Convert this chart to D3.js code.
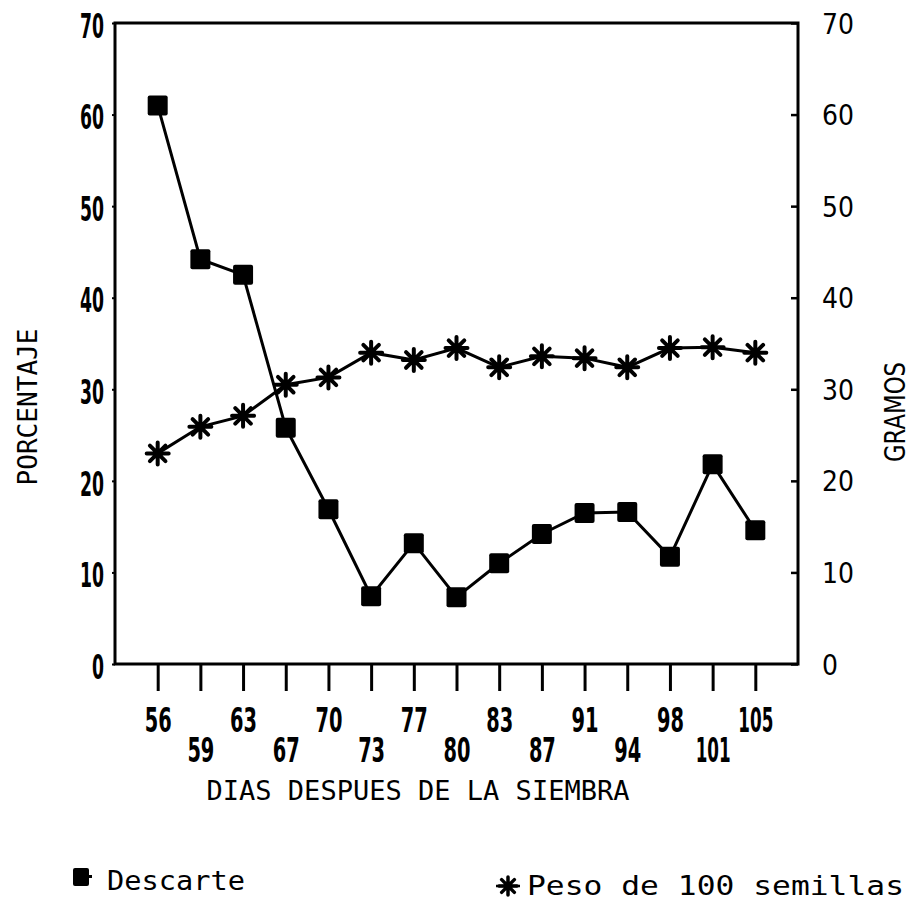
<!DOCTYPE html>
<meta charset="utf-8" />
<script src="https://d3js.org/d3.v7.min.js"></script>
<style>
  body { margin: 0; background: #fff; }
</style>
<div id="my_dataviz"></div>

<script>
  // values
  const days = ['56', '59', '63', '67', '70', '73', '77', '80', '83', '87', '91', '94', '98', '101', '105'];
  const descarte = [61.0, 44.2, 42.5, 25.8, 16.9, 7.4, 13.2, 7.3, 11.0, 14.2, 16.5, 16.6, 11.7, 21.8, 14.6];
  const peso = [23.0, 25.9, 27.1, 30.5, 31.3, 34.0, 33.2, 34.5, 32.4, 33.6, 33.4, 32.4, 34.5, 34.6, 34.0];
  const yTicks = [0, 10, 20, 30, 40, 50, 60, 70];

  const W = 913, H = 905;
  const plot = { left: 115, right: 798, top: 23, bottom: 664 };

  const svg = d3
    .select('#my_dataviz')
    .append('svg')
    .attr('width', W)
    .attr('height', H);

  const x = d3.scalePoint().domain(days).range([plot.left, plot.right]).padding(1);
  const y = d3.scaleLinear().domain([0, 70]).range([plot.bottom, plot.top]);

  const digitFont = "'DejaVu Sans', sans-serif";
  const monoFont = "'DejaVu Sans Mono', monospace";

  // frame
  svg
    .append('rect')
    .attr('x', plot.left)
    .attr('y', plot.top)
    .attr('width', plot.right - plot.left)
    .attr('height', plot.bottom - plot.top)
    .attr('fill', 'none')
    .attr('stroke', '#000')
    .attr('stroke-width', 3);

  // bottom axis, labels on two staggered rows
  const gx = svg
    .append('g')
    .attr('transform', `translate(0, ${plot.bottom})`)
    .call(d3.axisBottom(x).tickSize(27));
  gx.select('.domain').remove();
  gx.selectAll('.tick line').attr('stroke-width', 3);
  gx.selectAll('.tick text')
    .attr('y', (d, i) => (i % 2 ? 98 : 68))
    .attr('dy', 0)
    .style('font-family', digitFont)
    .style('font-weight', 'bold')
    .style('font-size', '34px')
    .attr('textLength', (d) => (d.length === 3 ? 35 : 27))
    .attr('lengthAdjust', 'spacingAndGlyphs')
    .attr('fill', '#000');

  // left axis
  const gl = svg
    .append('g')
    .attr('transform', `translate(${plot.left}, 0)`)
    .call(d3.axisLeft(y).tickValues(yTicks).tickSize(3).tickPadding(8));
  gl.select('.domain').remove();
  gl.selectAll('.tick line').attr('stroke-width', 2);
  gl.selectAll('.tick text')
    .attr('dy', '0.42em')
    .style('font-family', digitFont)
    .style('font-weight', 'bold')
    .style('font-size', '34px')
    .attr('textLength', (d) => String(d).length * 12)
    .attr('lengthAdjust', 'spacingAndGlyphs')
    .attr('fill', '#000');

  // right axis, ticks pointing inward
  const gr = svg
    .append('g')
    .attr('transform', `translate(${plot.right}, 0)`)
    .call(d3.axisRight(y).tickValues(yTicks).tickSize(-7).tickPadding(24));
  gr.select('.domain').remove();
  gr.selectAll('.tick line').attr('stroke-width', 2.5);
  gr.selectAll('.tick text')
    .attr('dy', '0.36em')
    .style('font-family', digitFont)
    .style('font-size', '28px')
    .attr('textLength', (d) => String(d).length * 16)
    .attr('lengthAdjust', 'spacingAndGlyphs')
    .attr('fill', '#000');

  // axis titles
  svg
    .append('text')
    .attr('transform', 'translate(37, 407) rotate(-90)')
    .attr('text-anchor', 'middle')
    .style('font-family', monoFont)
    .style('font-size', '26px')
    .attr('textLength', 157)
    .attr('lengthAdjust', 'spacingAndGlyphs')
    .text('PORCENTAJE');

  svg
    .append('text')
    .attr('transform', 'translate(905, 412) rotate(-90)')
    .attr('text-anchor', 'middle')
    .style('font-family', digitFont)
    .style('font-size', '29px')
    .attr('textLength', 100)
    .attr('lengthAdjust', 'spacingAndGlyphs')
    .text('GRAMOS');

  svg
    .append('text')
    .attr('x', 418)
    .attr('y', 800)
    .attr('text-anchor', 'middle')
    .style('font-family', monoFont)
    .style('font-size', '27px')
    .attr('textLength', 423)
    .attr('lengthAdjust', 'spacingAndGlyphs')
    .text('DIAS DESPUES DE LA SIEMBRA');

  // asterisk marker path
  const star = (r) => {
    const p = d3.path();
    for (let k = 0; k < 4; k++) {
      const a = (k * Math.PI) / 4;
      p.moveTo(-r * Math.cos(a), -r * Math.sin(a));
      p.lineTo(r * Math.cos(a), r * Math.sin(a));
    }
    return p.toString();
  };

  const line = d3
    .line()
    .x((d, i) => x(days[i]))
    .y((d) => y(d));

  // Peso de 100 semillas
  svg
    .append('path')
    .datum(peso)
    .attr('d', line)
    .attr('fill', 'none')
    .attr('stroke', '#000')
    .attr('stroke-width', 3);
  svg
    .selectAll('.star')
    .data(peso)
    .join('path')
    .attr('class', 'star')
    .attr('transform', (d, i) => `translate(${x(days[i])}, ${y(d)})`)
    .attr('d', star(11))
    .attr('stroke', '#000')
    .attr('stroke-width', 4)
    .attr('stroke-linecap', 'round');

  // Descarte
  svg
    .append('path')
    .datum(descarte)
    .attr('d', line)
    .attr('fill', 'none')
    .attr('stroke', '#000')
    .attr('stroke-width', 3);
  svg
    .selectAll('.sq')
    .data(descarte)
    .join('rect')
    .attr('class', 'sq')
    .attr('x', (d, i) => x(days[i]) - 10)
    .attr('y', (d) => y(d) - 10)
    .attr('width', 20)
    .attr('height', 20)
    .attr('rx', 2)
    .attr('fill', '#000');

  // legend
  svg
    .append('rect')
    .attr('x', 73)
    .attr('y', 868)
    .attr('width', 16)
    .attr('height', 18)
    .attr('rx', 2)
    .attr('fill', '#000');
  svg
    .append('rect')
    .attr('x', 88)
    .attr('y', 875)
    .attr('width', 4)
    .attr('height', 3)
    .attr('fill', '#000');
  svg
    .append('text')
    .attr('x', 107)
    .attr('y', 890)
    .style('font-family', monoFont)
    .style('font-size', '26px')
    .attr('textLength', 138)
    .attr('lengthAdjust', 'spacingAndGlyphs')
    .text('Descarte');

  svg
    .append('path')
    .attr('transform', 'translate(508, 886)')
    .attr('d', star(9))
    .attr('stroke', '#000')
    .attr('stroke-width', 3.5)
    .attr('stroke-linecap', 'round');
  svg
    .append('line')
    .attr('x1', 496)
    .attr('x2', 520)
    .attr('y1', 886)
    .attr('y2', 886)
    .attr('stroke', '#000')
    .attr('stroke-width', 2.5);
  svg
    .append('text')
    .attr('x', 527)
    .attr('y', 895)
    .style('font-family', monoFont)
    .style('font-size', '27px')
    .attr('textLength', 377)
    .attr('lengthAdjust', 'spacingAndGlyphs')
    .text('Peso de 100 semillas');
</script>
